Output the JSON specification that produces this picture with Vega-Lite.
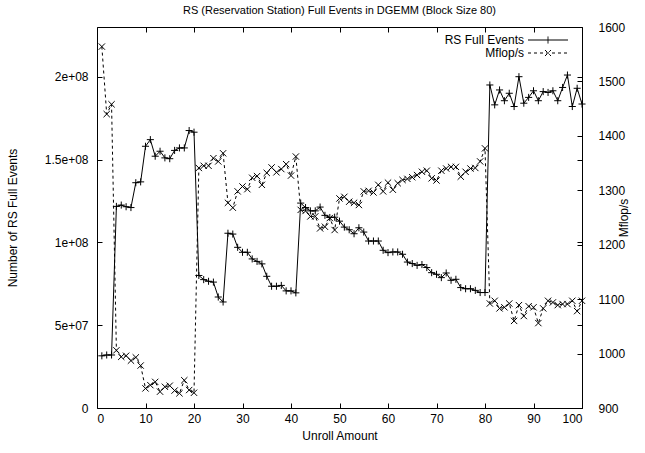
{
  "$schema": "https://vega.github.io/schema/vega-lite/v6.json",
  "width": 485,
  "height": 381,
  "autosize": {"type": "none"},
  "padding": {"left": 97, "top": 27, "right": 63, "bottom": 45},
  "title": {"text": "RS (Reservation Station) Full Events in DGEMM (Block Size 80)", "fontSize": 11, "fontWeight": "normal", "font": "Liberation Sans", "color": "black", "frame": "group", "offset": 5},
  "config": {
    "view": {"stroke": "black", "strokeWidth": 1},
    "font": "Liberation Sans",
    "axis": {"domain": false, "grid": false, "tickColor": "black", "tickSize": -5, "labelColor": "black", "labelFontSize": 12, "labelFont": "Liberation Sans", "titleFont": "Liberation Sans", "titleFontSize": 12, "titleFontWeight": "normal", "titleColor": "black"}
  },
  "data": {"values": [
    {"u":1,"rs":31500000,"mf":1564},{"u":2,"rs":32000000,"mf":1440},{"u":3,"rs":32000000,"mf":1458},{"u":4,"rs":121700000,"mf":1006},{"u":5,"rs":122500000,"mf":994},
    {"u":6,"rs":121500000,"mf":996},{"u":7,"rs":121000000,"mf":987},{"u":8,"rs":136000000,"mf":993},{"u":9,"rs":136500000,"mf":978},{"u":10,"rs":158000000,"mf":936},
    {"u":11,"rs":162000000,"mf":942},{"u":12,"rs":152000000,"mf":948},{"u":13,"rs":155000000,"mf":930},{"u":14,"rs":151000000,"mf":939},{"u":15,"rs":150500000,"mf":941},
    {"u":16,"rs":155500000,"mf":932},{"u":17,"rs":157000000,"mf":927},{"u":18,"rs":157000000,"mf":951},{"u":19,"rs":167500000,"mf":933},{"u":20,"rs":166500000,"mf":928},
    {"u":21,"rs":80000000,"mf":1341},{"u":22,"rs":77500000,"mf":1345},{"u":23,"rs":76500000,"mf":1345},{"u":24,"rs":76000000,"mf":1359},{"u":25,"rs":67000000,"mf":1353},
    {"u":26,"rs":64000000,"mf":1368},{"u":27,"rs":105500000,"mf":1277},{"u":28,"rs":105000000,"mf":1268},{"u":29,"rs":97000000,"mf":1298},{"u":30,"rs":94000000,"mf":1307},
    {"u":31,"rs":94000000,"mf":1302},{"u":32,"rs":90000000,"mf":1323},{"u":33,"rs":88500000,"mf":1326},{"u":34,"rs":87000000,"mf":1310},{"u":35,"rs":79500000,"mf":1332},
    {"u":36,"rs":73500000,"mf":1342},{"u":37,"rs":73500000,"mf":1333},{"u":38,"rs":74000000,"mf":1339},{"u":39,"rs":70700000,"mf":1348},{"u":40,"rs":70700000,"mf":1327},
    {"u":41,"rs":69500000,"mf":1362},{"u":42,"rs":123700000,"mf":1264},{"u":43,"rs":121000000,"mf":1262},{"u":44,"rs":119000000,"mf":1252},{"u":45,"rs":119000000,"mf":1252},
    {"u":46,"rs":121300000,"mf":1230},{"u":47,"rs":116300000,"mf":1233},{"u":48,"rs":115000000,"mf":1249},{"u":49,"rs":115200000,"mf":1227},{"u":50,"rs":112800000,"mf":1285},
    {"u":51,"rs":109200000,"mf":1288},{"u":52,"rs":107600000,"mf":1279},{"u":53,"rs":105200000,"mf":1277},{"u":54,"rs":108800000,"mf":1273},{"u":55,"rs":106200000,"mf":1298},
    {"u":56,"rs":100800000,"mf":1299},{"u":57,"rs":100800000,"mf":1296},{"u":58,"rs":100800000,"mf":1310},{"u":59,"rs":95200000,"mf":1298},{"u":60,"rs":93800000,"mf":1314},
    {"u":61,"rs":94200000,"mf":1301},{"u":62,"rs":94200000,"mf":1313},{"u":63,"rs":92800000,"mf":1319},{"u":64,"rs":88100000,"mf":1321},{"u":65,"rs":87200000,"mf":1324},
    {"u":66,"rs":86100000,"mf":1328},{"u":67,"rs":86600000,"mf":1334},{"u":68,"rs":84800000,"mf":1336},{"u":69,"rs":81700000,"mf":1322},{"u":70,"rs":80700000,"mf":1318},
    {"u":71,"rs":78700000,"mf":1336},{"u":72,"rs":81500000,"mf":1340},{"u":73,"rs":77100000,"mf":1343},{"u":74,"rs":77700000,"mf":1343},{"u":75,"rs":72700000,"mf":1325},
    {"u":76,"rs":72000000,"mf":1334},{"u":77,"rs":72000000,"mf":1340},{"u":78,"rs":71000000,"mf":1341},{"u":79,"rs":69700000,"mf":1353},{"u":80,"rs":69700000,"mf":1377},
    {"u":81,"rs":195000000,"mf":1092},{"u":82,"rs":183000000,"mf":1097},{"u":83,"rs":192000000,"mf":1083},{"u":84,"rs":185500000,"mf":1085},{"u":85,"rs":190000000,"mf":1092},
    {"u":86,"rs":182000000,"mf":1060},{"u":87,"rs":200000000,"mf":1089},{"u":88,"rs":184000000,"mf":1069},{"u":89,"rs":187500000,"mf":1087},{"u":90,"rs":191500000,"mf":1085},
    {"u":91,"rs":185500000,"mf":1056},{"u":92,"rs":191000000,"mf":1083},{"u":93,"rs":190500000,"mf":1097},{"u":94,"rs":191500000,"mf":1094},{"u":95,"rs":185500000,"mf":1089},
    {"u":96,"rs":193500000,"mf":1091},{"u":97,"rs":201000000,"mf":1091},{"u":98,"rs":182000000,"mf":1097},{"u":99,"rs":193000000,"mf":1078},{"u":100,"rs":183500000,"mf":1097}
  ]},
  "layer": [
    {
      "layer": [
        {
          "mark": {"type": "line", "color": "black", "strokeWidth": 1},
          "encoding": {
            "x": {"field": "u", "type": "quantitative", "scale": {"domain": [0, 100], "nice": false}, "axis": {"values": [0,10,20,30,40,50,60,70,80,90,100], "title": "Unroll Amount", "labelPadding": 10, "titlePadding": 6}},
            "y": {"field": "rs", "type": "quantitative", "scale": {"domain": [0, 230000000], "nice": false}, "axis": {"values": [0, 50000000, 100000000, 150000000, 200000000], "labelExpr": "datum.value === 0 ? '0' : datum.value === 50000000 ? '5e+07' : datum.value === 100000000 ? '1e+08' : datum.value === 150000000 ? '1.5e+08' : '2e+08'", "title": "Number of RS Full Events", "labelPadding": 14, "titlePadding": 25}}
          }
        },
        {
          "mark": {"type": "point", "shape": "M-1,0H1M0,-1V1", "filled": false, "stroke": "black", "strokeWidth": 1, "size": 50, "opacity": 1},
          "encoding": {
            "x": {"field": "u", "type": "quantitative"},
            "y": {"field": "rs", "type": "quantitative"}
          }
        }
      ]
    },
    {
      "layer": [
        {
          "mark": {"type": "line", "color": "black", "strokeWidth": 1, "strokeDash": [3, 3]},
          "encoding": {
            "x": {"field": "u", "type": "quantitative", "axis": null},
            "y": {"field": "mf", "type": "quantitative", "scale": {"domain": [900, 1600], "nice": false}, "axis": {"orient": "right", "values": [900,1000,1100,1200,1300,1400,1500,1600], "format": "d", "title": "Mflop/s", "titleAngle": 270, "labelPadding": 21, "titlePadding": 6}}
          }
        },
        {
          "mark": {"type": "point", "shape": "M-1,-1L1,1M-1,1L1,-1", "filled": false, "stroke": "black", "strokeWidth": 1, "size": 40, "opacity": 1},
          "encoding": {
            "x": {"field": "u", "type": "quantitative", "axis": null},
            "y": {"field": "mf", "type": "quantitative"}
          }
        }
      ]
    },
    {
      "mark": {"type": "point", "opacity": 0},
      "encoding": {
        "x": {"field": "u", "type": "quantitative", "axis": {"orient": "top", "values": [0,10,20,30,40,50,60,70,80,90,100], "labels": false, "title": null}},
        "y": {"field": "rs", "type": "quantitative", "scale": {"domain": [0, 230000000], "nice": false}, "axis": {"orient": "right", "values": [0, 50000000, 100000000, 150000000, 200000000], "labels": false, "title": null, "offset": 0}}
      }
    },
    {
      "data": {"values": [{"series": "RS Full Events"}, {"series": "Mflop/s"}]},
      "transform": [{"filter": "false"}],
      "mark": {"type": "point", "filled": false, "stroke": "black", "strokeWidth": 1, "opacity": 1},
      "encoding": {
        "shape": {"field": "series", "type": "nominal", "scale": {"domain": ["RS Full Events", "Mflop/s"], "range": ["M-4,0H4M0,-0.7V0.7", "M-4,0H4M-0.6,-0.6L0.6,0.6M-0.6,0.6L0.6,-0.6"]},
          "legend": {"title": null, "orient": "none", "legendX": 345, "legendY": 7, "labelAlign": "right", "labelOffset": -30, "symbolOffset": 100, "symbolSize": 100, "symbolStrokeWidth": 1, "symbolStrokeColor": "black", "labelFontSize": 12, "labelFont": "Liberation Sans", "labelColor": "black", "rowPadding": 1, "padding": 0}},
        "strokeDash": {"field": "series", "type": "nominal", "scale": {"domain": ["RS Full Events", "Mflop/s"], "range": [[1, 0], [3, 3]]},
          "legend": {"title": null, "orient": "none", "legendX": 345, "legendY": 7, "labelAlign": "right", "labelOffset": -30, "symbolOffset": 100, "symbolSize": 100, "symbolStrokeWidth": 1, "symbolStrokeColor": "black", "labelFontSize": 12, "labelFont": "Liberation Sans", "labelColor": "black", "rowPadding": 1, "padding": 0}}
      }
    }
  ],
  "resolve": {"scale": {"y": "independent", "shape": "independent", "strokeDash": "independent"}, "axis": {"x": "independent"}}
}
